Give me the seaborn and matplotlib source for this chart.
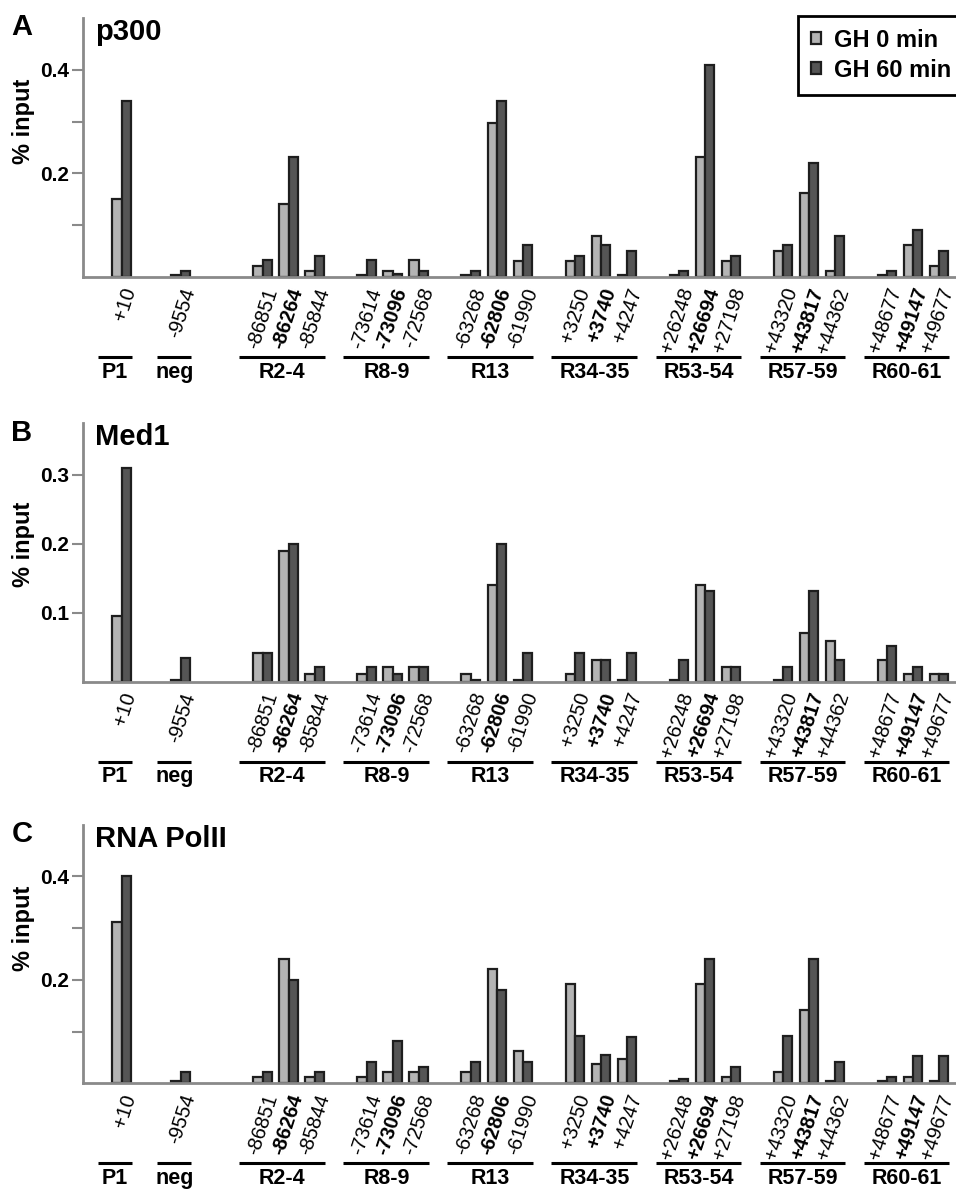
import numpy as np
import pandas as pd
import matplotlib
matplotlib.use("Agg")
import matplotlib.pyplot as plt
import seaborn as sns

# ---- data ----
groups = ["P1", "neg", "R2-4", "R8-9", "R13", "R34-35", "R53-54", "R57-59", "R60-61"]
group_sizes = [1, 1, 3, 3, 3, 3, 3, 3, 3]
sites = ["+10", "-9554",
         "-86851", "-86264", "-85844",
         "-73614", "-73096", "-72568",
         "-63268", "-62806", "-61990",
         "+3250", "+3740", "+4247",
         "+26248", "+26694", "+27198",
         "+43320", "+43817", "+44362",
         "+48677", "+49147", "+49677"]
bold_sites = ["-86264", "-73096", "-62806", "+3740", "+26694", "+43817", "+49147"]
conditions = ["GH 0 min", "GH 60 min"]

p300_0 = [0.151, 0.004, 0.021, 0.141, 0.012, 0.004, 0.012, 0.032, 0.004, 0.298, 0.031,
          0.031, 0.080, 0.004, 0.004, 0.231, 0.031, 0.051, 0.162, 0.012, 0.004, 0.061, 0.021]
p300_60 = [0.340, 0.012, 0.032, 0.231, 0.041, 0.032, 0.005, 0.012, 0.012, 0.340, 0.061,
           0.041, 0.061, 0.051, 0.012, 0.409, 0.041, 0.061, 0.220, 0.080, 0.012, 0.091, 0.051]

med1_0 = [0.095, 0.003, 0.041, 0.190, 0.011, 0.011, 0.022, 0.022, 0.011, 0.141, 0.003,
          0.011, 0.031, 0.003, 0.003, 0.141, 0.022, 0.003, 0.071, 0.059, 0.031, 0.011, 0.011]
med1_60 = [0.310, 0.034, 0.041, 0.200, 0.022, 0.022, 0.011, 0.022, 0.003, 0.200, 0.041,
           0.041, 0.031, 0.041, 0.031, 0.131, 0.022, 0.022, 0.131, 0.031, 0.052, 0.022, 0.011]

pol2_0 = [0.311, 0.005, 0.012, 0.241, 0.012, 0.012, 0.022, 0.022, 0.022, 0.221, 0.062,
          0.191, 0.038, 0.046, 0.005, 0.191, 0.012, 0.022, 0.142, 0.005, 0.005, 0.012, 0.005]
pol2_60 = [0.400, 0.022, 0.022, 0.200, 0.022, 0.042, 0.082, 0.031, 0.042, 0.180, 0.042,
           0.092, 0.055, 0.089, 0.009, 0.241, 0.031, 0.092, 0.241, 0.042, 0.012, 0.052, 0.052]

panels = [("A", "p300", p300_0, p300_60, 0.5, [0.2, 0.4], [0.1, 0.3]),
          ("B", "Med1", med1_0, med1_60, 0.375, [0.1, 0.2, 0.3], []),
          ("C", "RNA PolII", pol2_0, pol2_60, 0.5, [0.2, 0.4], [0.1, 0.3])]

# ---- layout of the site positions (slot units) ----
gap_before = [1.47, 2.28, 3.15, 2, 2, 2, 2, 2, 2]
pos = []
group_span = []
cur = 0.0
for g, n, gap in zip(groups, group_sizes, gap_before):
    cur += gap
    first = cur
    for k in range(n):
        pos.append(cur)
        if k < n - 1:
            cur += 1
    group_span.append((first, cur))
xmax = cur + 0.65

sns.set_style("ticks")
plt.rcParams["font.family"] = ["Liberation Sans", "DejaVu Sans"]
plt.rcParams["text.color"] = "black"
plt.rcParams["axes.labelcolor"] = "black"
plt.rcParams["xtick.color"] = "black"
plt.rcParams["ytick.color"] = "black"

fig = plt.figure(figsize=(9.56, 11.93), dpi=100)
axes_rects = [[0.0871, 0.7678, 0.9129, 0.2171],
              [0.0871, 0.4286, 0.9129, 0.2166],
              [0.0871, 0.0920, 0.9129, 0.2167]]

light = "#b4b4b4"
dark = "#555555"
edge = "#1e1e1e"
spine_col = "#8a8a8a"

for (letter, name, v0, v60, ytop, major, minor), rect in zip(panels, axes_rects):
    ax = fig.add_axes(rect)
    df = pd.DataFrame({
        "pos": pos * 2,
        "value": v0 + v60,
        "cond": [conditions[0]] * len(sites) + [conditions[1]] * len(sites),
    })
    sns.barplot(data=df, x="pos", y="value", hue="cond", hue_order=conditions,
                palette=[light, dark], native_scale=True, width=0.72,
                errorbar=None, edgecolor=edge, linewidth=1.6, ax=ax,
                legend=(letter == "A"))
    ax.set_xlim(0, xmax)
    ax.set_ylim(0, ytop)
    sns.despine(ax=ax)
    for s in ["left", "bottom"]:
        ax.spines[s].set_color(spine_col)
        ax.spines[s].set_linewidth(2)

    ax.set_yticks(major)
    ax.set_yticklabels([f"{t:g}" for t in major], fontsize=15, fontweight="bold")
    ax.set_yticks(minor, minor=True)
    ax.tick_params(axis="y", which="both", length=8, width=1.5, color=spine_col,
                   labelcolor="black", pad=2)
    ax.set_ylabel("% input", fontsize=17, fontweight="bold")
    ax.yaxis.set_label_coords(-0.055, np.mean(major) / ytop)

    ax.set_xticks(pos)
    ax.set_xticklabels(sites, rotation=72, ha="right", rotation_mode="anchor", fontsize=14.5)
    for lab in ax.get_xticklabels():
        if lab.get_text() in bold_sites:
            lab.set_fontweight("bold")
    ax.tick_params(axis="x", length=0, pad=6, labelcolor="black")
    ax.set_xlabel("")

    # group brackets under the site labels
    tr = ax.get_xaxis_transform()
    for g, (a, b) in zip(groups, group_span):
        ax.plot([a - 0.9, b + 0.4], [-0.31, -0.31], color="black", lw=2.2,
                transform=tr, clip_on=False, solid_capstyle="butt")
        ax.text((a - 0.9 + b + 0.4) / 2, -0.367, g, transform=tr, ha="center",
                va="center", fontsize=15.5, fontweight="bold")

    ax.text(0.014, 1.0, name, transform=ax.transAxes, ha="left", va="top",
            fontsize=21, fontweight="bold")
    fig.text(0.012, rect[1] + rect[3] + 0.004, letter, ha="left", va="top",
             fontsize=21, fontweight="bold")

    if letter == "A":
        leg = ax.legend(loc="upper right", bbox_to_anchor=(1.02, 1.045),
                        prop={"weight": "bold", "size": 17},
                        handlelength=0.4, handleheight=0.4, handletextpad=0.55,
                        borderpad=0.55, labelspacing=0.3, borderaxespad=0.4,
                        fancybox=False, title=None)
        leg.get_frame().set_edgecolor("black")
        leg.get_frame().set_linewidth(2)
        leg.get_frame().set_alpha(1)

fig.savefig("out.png", dpi=100)
